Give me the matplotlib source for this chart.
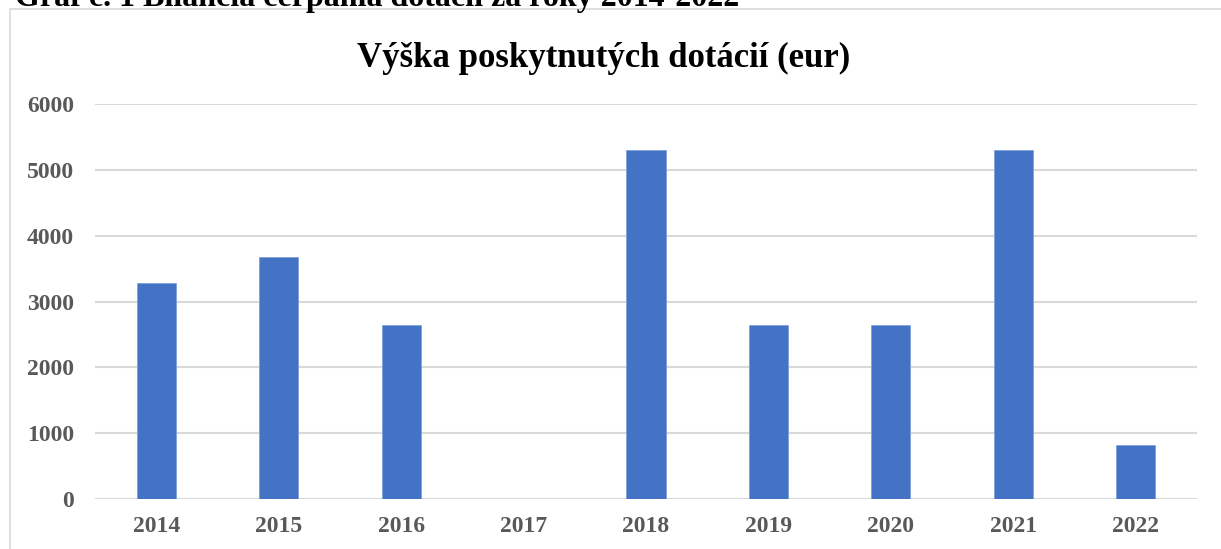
import matplotlib
matplotlib.use("Agg")
from matplotlib import pyplot as plt
from matplotlib.patches import Rectangle

# data
roky = ["2014", "2015", "2016", "2017", "2018", "2019", "2020", "2021", "2022"]
dotacie = [3274, 3680, 2640, 0, 5300, 2640, 2640, 5300, 826]
y_ticks = [0, 1000, 2000, 3000, 4000, 5000, 6000]

W, H = 1221, 549
plt.rcParams['font.family'] = ['Liberation Serif', 'DejaVu Serif']

fig = plt.figure(figsize=(W / 100, H / 100), dpi=100)

# ramik okolo grafu (spodny a pravy okraj su orezane)
fig.patches.append(Rectangle((9.5 / W, -0.1), (W + 20) / W, 1.1 - 9.5 / H,
                             transform=fig.transFigure, fill=False,
                             edgecolor='#D9D9D9', lw=1.2, zorder=0))

# popis grafu - v originale orezany hore
fig.text(15 / W, 1 - 6 / H, "Graf č. 1 Bilancia čerpania dotácií za roky 2014-2022",
         fontsize=23, fontweight='bold', ha='left', va='baseline', color='black')

ax = fig.add_axes([95 / W, 1 - 499 / H, (1197 - 95) / W, (499 - 104) / H])
x = range(len(roky))
ax.bar(x, dotacie, width=0.32, color='#4472C4', edgecolor='#7FA0DA',
       linewidth=0.6, zorder=3)

ax.set_xlim(-0.5, len(roky) - 0.5)
ax.set_ylim(0, 6000)
ax.set_yticks(y_ticks)
ax.set_xticks(list(x))
ax.set_xticklabels(roky)
ax.grid(axis='y', color='#D9D9D9', lw=1.5, zorder=0)
ax.set_axisbelow(True)
for s in ax.spines.values():
    s.set_visible(False)
ax.tick_params(length=0)
ax.tick_params(axis='y', pad=15)
ax.tick_params(axis='x', pad=12)
for lab in ax.get_xticklabels() + ax.get_yticklabels():
    lab.set_fontsize(17)
    lab.set_fontweight('bold')
    lab.set_color('#595959')

fig.text(604 / W, 1 - 67 / H, "Výška poskytnutých dotácií (eur)",
         fontsize=25, fontweight='bold', ha='center', va='baseline', color='black')

fig.savefig("out.png", dpi=100)
